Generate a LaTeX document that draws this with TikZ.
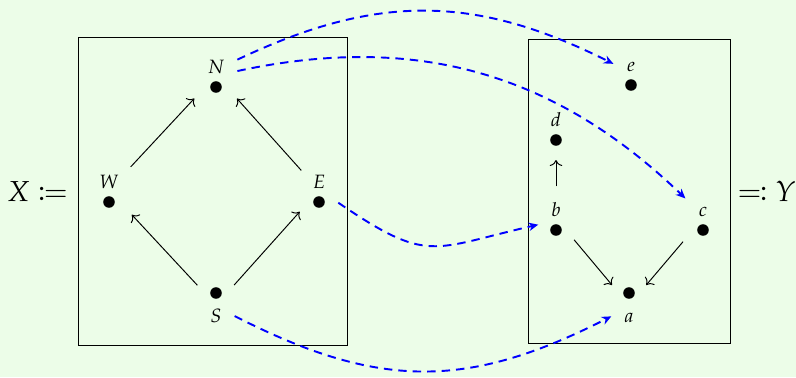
\documentclass[tikz,border=0pt]{standalone}
\usepackage{mathpazo}
\usepackage{mathtools}
\usepackage{tikz}
\usetikzlibrary{positioning,fit,arrows.meta}
\definecolor{bggreen}{RGB}{236,253,232}

\tikzset{
  dot/.style={circle, fill=black, inner sep=0pt, minimum size=4.8pt},
  lbl/.style={font=\footnotesize, inner sep=0.5pt, text height=6pt, text depth=0pt},
  lblup/.style={lbl, yshift=2.4pt},
  lbldown/.style={lbl, yshift=-2.8pt},
  vtx/.style={inner xsep=4.5pt, inner ysep=0.5pt},
  map/.style={->},
  fn/.style={blue, thick, dash pattern=on 3.5pt off 2.5pt, -{Stealth[length=4pt,width=3.5pt]}},
}

\begin{document}
\begin{tikzpicture}[x=0.415pt, y=-0.415pt]
\useasboundingbox (0,0) rectangle (796,377);
\fill[bggreen] (0,0) rectangle (796,377);
% the two frames
\draw (78,37) rectangle (347,345);
\draw (528,39) rectangle (730,343);
\node[anchor=base, font=\large] (X) at (37.5,201) {$X \coloneqq$};
\node[anchor=base, font=\large] (Y) at (766.5,201.5) {$\eqqcolon Y$};

% points of X
\node[dot, label={[lblup,name=Nl]above:$N$}] (Nd) at (216,87) {};
\node[dot, label={[lblup,name=Wl]above:$W$}] (Wd) at (109,202) {};
\node[dot, label={[lblup,name=El]above:$E$}] (Ed) at (319,202) {};
\node[dot, label={[lbldown,name=Sl]below:$S$}] (Sd) at (216,293) {};
\node[vtx, fit=(Nd)(Nl)] (N) {};
\node[vtx, fit=(Wd)(Wl)] (W) {};
\node[vtx, fit=(Ed)(El)] (E) {};
\node[vtx, fit=(Sd)(Sl)] (S) {};

% points of Y
\node[dot, label={[lblup,name=el]above:$e$}] (ed) at (631,85) {};
\node[dot, label={[lblup,name=dl]above:$d$}] (dd) at (556,140) {};
\node[dot, label={[lblup,name=bl]above:$b$}] (bd) at (556,230) {};
\node[dot, label={[lblup,name=cl]above:$c$}] (cd) at (703,230) {};
\node[dot, label={[lbldown,name=al]below:$a$}] (ad) at (629,293) {};
\node[vtx, fit=(ed)(el)] (e) {};
\node[vtx, fit=(dd)(dl)] (d) {};
\node[vtx, fit=(bd)(bl)] (b) {};
\node[vtx, fit=(cd)(cl)] (c) {};
\node[vtx, fit=(ad)(al)] (a) {};

% order relations
\draw[map, shorten <=2pt, shorten >=2pt] (W) -- (N);
\draw[map, shorten >=2pt] (E) -- (N);
\draw[map, shorten >=2.7pt] (S) -- (W);
\draw[map, shorten >=1pt] (S) -- (E);
\draw[map, shorten <=5pt, shorten >=5pt] (b) -- (d);
\draw[map, shorten <=1pt] (b) -- (a);
\draw[map, shorten <=2pt] (c) -- (a);

% the map X -> Y
\draw[fn] (N.36) to[bend left=26, looseness=1.05] (e.152);
\draw[fn] (N.11) to[bend left=28] (c.north west);
\draw[fn] (E.-33) to[out=-28, in=-161, relative, looseness=1.4] (b.-160);
\draw[fn] (S.-30) to[bend right=27, looseness=1.1] (a.-148);
\end{tikzpicture}
\end{document}
